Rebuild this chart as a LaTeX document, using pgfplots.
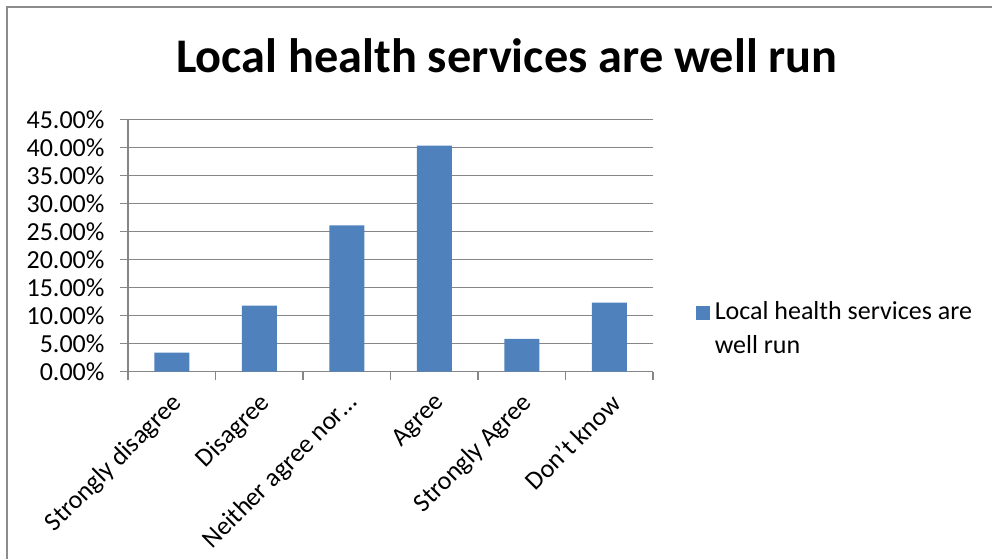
\documentclass[border=0pt]{standalone}
\usepackage{fontspec}
\setmainfont{Carlito}
\usepackage{pgfplots}
\pgfplotsset{compat=1.18}
\definecolor{barblue}{HTML}{4F81BD}
\definecolor{gridgray}{HTML}{868686}
\definecolor{framegray}{HTML}{8C8C8C}

\begin{document}
\begin{tikzpicture}[x=1pt,y=1pt]
\useasboundingbox (0,0) rectangle (995,-559);
\draw[framegray, line width=1.5pt] (7,-559) -- (7,-7) -- (992,-7);
\node[font=\fontsize{48.3}{56}\selectfont\bfseries, anchor=base, inner sep=0pt] at (507,-72.7) {Local health services are well run};
\begin{axis}[
  at={(128pt,-371.7pt)}, anchor=south west,
  scale only axis, width=525pt, height=252.4pt,
  xmin=-0.5, xmax=5.5, ymin=0, ymax=45,
  axis x line*=bottom, axis y line*=left,
  axis line style={-, draw=gridgray, line width=1.3pt},
  ytick={0,5,...,45},
  xtick={0,...,5},
  xticklabels={Strongly disagree, Disagree, Neither agree nor…, Agree, Strongly Agree, Don't know},
  minor xtick={-0.5,0.5,...,5.5},
  tick align=outside,
  major tick length=8pt, minor tick length=8pt,
  every tick/.style={draw=gridgray, line width=1.3pt},
  major x tick style={draw=none},
  ymajorgrids,
  major grid style={draw=gridgray, line width=1.3pt},
  /pgf/number format/assume math mode=true,
  yticklabel={\pgfmathprintnumber[fixed,fixed zerofill,precision=2]{\tick}\%},
  tick label style={font=\fontsize{26}{30}\selectfont},
  yticklabel style={xshift=-12pt},
  xticklabel style={xshift=9pt, yshift=-17pt, rotate=45, anchor=east},
  legend style={at={(axis description cs:1.082,0.173)}, anchor=west, draw=none, inner sep=0pt,
    font=\fontsize{26}{33.5}\selectfont, cells={align=left}, nodes={inner sep=4.5pt}},
  legend image code/.code={\fill[barblue] (0pt,8pt) rectangle (14pt,22pt);},
]
\addplot[ybar, bar width=35pt, fill=barblue, draw=none] coordinates {
  (0,3.4) (1,11.8) (2,26.1) (3,40.3) (4,5.85) (5,12.3)
};
\addlegendentry{Local health services are\\well run}
\end{axis}
\end{tikzpicture}
\end{document}
